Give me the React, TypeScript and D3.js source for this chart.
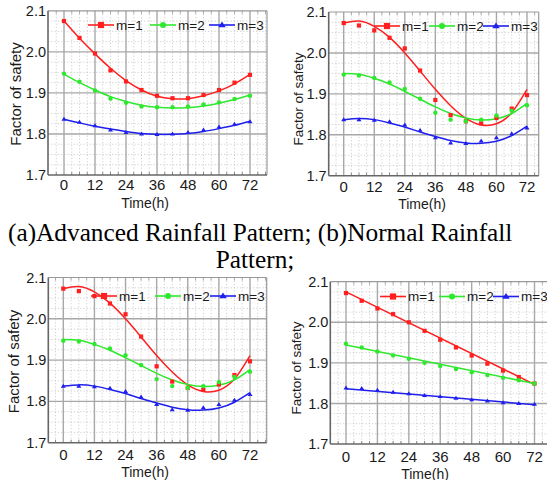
import React from "react";
import * as d3 from "d3";

// ---------- data ----------
const hours = [0, 6, 12, 18, 24, 30, 36, 42, 48, 54, 60, 66, 72];
const xTicks = [0, 12, 24, 36, 48, 60, 72];
const yTicks = [1.7, 1.8, 1.9, 2.0, 2.1];
const yTickLabels = ["1.7", "1.8", "1.9", "2.0", "2.1"];
const seriesNames = ["m=1", "m=2", "m=3"];
const seriesColors = ["#ff1f1f", "#2ee82e", "#1f1fee"];
const xTitle = "Time(h)";
const yTitle = "Factor of safety";
const captionLine1 = "(a)Advanced Rainfall Pattern; (b)Normal Rainfall";
const captionLine2 = "Pattern;";

// (a) advanced rainfall pattern: measured points
const advM1 = [2.075, 2.034, 1.996, 1.955, 1.928, 1.907, 1.893, 1.887, 1.887, 1.895, 1.907, 1.925, 1.944];
const advM2 = [1.947, 1.927, 1.906, 1.886, 1.876, 1.867, 1.865, 1.865, 1.867, 1.872, 1.877, 1.885, 1.893];
const advM3 = [1.836, 1.829, 1.820, 1.810, 1.804, 1.800, 1.799, 1.800, 1.804, 1.810, 1.817, 1.824, 1.830];
// (a) fitted curves read at each hour
const advFitM1 = [2.075, 2.033, 1.995, 1.960, 1.930, 1.907, 1.892, 1.886, 1.886, 1.893, 1.905, 1.922, 1.945];
const advFitM2 = [1.946, 1.925, 1.907, 1.891, 1.879, 1.870, 1.865, 1.863, 1.864, 1.868, 1.875, 1.884, 1.895];
const advFitM3 = [1.836, 1.827, 1.819, 1.812, 1.806, 1.801, 1.799, 1.799, 1.801, 1.806, 1.813, 1.821, 1.831];

// (b) normal rainfall pattern: measured points
const norM1 = [2.073, 2.067, 2.055, 2.037, 2.011, 1.957, 1.885, 1.848, 1.833, 1.828, 1.841, 1.864, 1.897];
const norM2 = [1.947, 1.945, 1.939, 1.928, 1.912, 1.888, 1.854, 1.837, 1.833, 1.837, 1.847, 1.859, 1.872];
const norM3 = [1.837, 1.837, 1.836, 1.832, 1.824, 1.811, 1.793, 1.780, 1.779, 1.785, 1.793, 1.803, 1.817];
// (b) fitted curves read at each hour
const norFitM1 = [2.073, 2.078, 2.065, 2.038, 2.000, 1.956, 1.911, 1.871, 1.840, 1.824, 1.827, 1.854, 1.911];
const norFitM2 = [1.950, 1.948, 1.938, 1.924, 1.906, 1.887, 1.868, 1.852, 1.841, 1.836, 1.839, 1.852, 1.877];
const norFitM3 = [1.837, 1.840, 1.837, 1.829, 1.819, 1.807, 1.796, 1.786, 1.780, 1.779, 1.784, 1.798, 1.821];

// (d) linear pattern: measured points
const linM1 = [2.072, 2.053, 2.034, 2.020, 2.000, 1.979, 1.957, 1.938, 1.918, 1.898, 1.881, 1.865, 1.849];
const linM2 = [1.947, 1.938, 1.928, 1.918, 1.910, 1.900, 1.892, 1.885, 1.877, 1.870, 1.863, 1.857, 1.849];
const linM3 = [1.838, 1.837, 1.833, 1.828, 1.824, 1.820, 1.817, 1.813, 1.809, 1.806, 1.802, 1.800, 1.798];
// (d) fitted straight lines (end values)
const linFitHours = [0, 72];
const linFitM1 = [2.075, 1.847];
const linFitM2 = [1.944, 1.849];
const linFitM3 = [1.836, 1.797];

const FONT = "'Liberation Sans', Arial, sans-serif";

type Cfg = {
  l: number; r: number; x0: number; x72: number; y17: number; y21: number;
  pts: number[][]; fitH: number[]; fits: number[][]; curve: any;
  legX: number[]; legY: number;
  yTitleX: number; yTitleY: number; yTitleSize: number;
  xTitleX: number; xTitleY: number; xTickY: number;
  id: string;
};

const Marker = ({ i, cx, cy, s, color }: any) => {
  if (i === 0) return <rect x={cx - s / 2} y={cy - s / 2} width={s} height={s} fill={color} />;
  if (i === 1) return <circle cx={cx} cy={cy} r={s / 2} fill={color} />;
  const h = s * 0.95;
  return <path d={`M${cx},${cy - h * 0.6}L${cx + s * 0.6},${cy + h * 0.4}L${cx - s * 0.6},${cy + h * 0.4}Z`} fill={color} />;
};

const Panel = ({ c }: { c: Cfg }) => {
  const x = d3.scaleLinear().domain([0, 72]).range([c.x0, c.x72]);
  const y = d3.scaleLinear().domain([1.7, 2.1]).range([c.y17, c.y21]);
  const t = c.y21, b = c.y17;
  const minorX = d3.range(-9, 84, 3).filter((h) => h % 12 !== 0 && x(h) > c.l + 1 && x(h) < c.r - 1);
  const minorY = d3.range(0, 17).map((k) => 1.7 + k * 0.025).filter((v, k) => k % 4 !== 0);
  const line = d3.line<number[]>().x((d) => x(d[0])).y((d) => y(d[1])).curve(c.curve);
  return (
    <g>
      <defs>
        <clipPath id={c.id}>
          <rect x={c.l} y={t} width={c.r - c.l} height={b - t} />
        </clipPath>
      </defs>
      {/* minor grid */}
      {minorX.map((h) => (
        <line key={"mx" + h} x1={x(h)} x2={x(h)} y1={t} y2={b} stroke="#c4c4c4" strokeWidth={0.8} strokeDasharray="1.2,2" />
      ))}
      {minorY.map((v) => (
        <line key={"my" + v} x1={c.l} x2={c.r} y1={y(v)} y2={y(v)} stroke="#c4c4c4" strokeWidth={0.8} strokeDasharray="1.2,2" />
      ))}
      {/* minor ticks */}
      {minorX.map((h) => (
        <g key={"tx" + h}>
          <line x1={x(h)} x2={x(h)} y1={b} y2={b - 3} stroke="#888" strokeWidth={1} />
          <line x1={x(h)} x2={x(h)} y1={t} y2={t + 3} stroke="#aaa" strokeWidth={1} />
        </g>
      ))}
      {/* major grid */}
      {xTicks.map((h) => (
        <line key={"gx" + h} x1={x(h)} x2={x(h)} y1={t} y2={b} stroke="#a8a8a8" strokeWidth={1.4} />
      ))}
      {yTicks.slice(1, 4).map((v) => (
        <line key={"gy" + v} x1={c.l} x2={c.r} y1={y(v)} y2={y(v)} stroke="#a8a8a8" strokeWidth={1.4} />
      ))}
      {/* frame */}
      <line x1={c.l} x2={c.r} y1={t} y2={t} stroke="#9a9a9a" strokeWidth={1.2} />
      <line x1={c.r} x2={c.r} y1={t} y2={b} stroke="#9a9a9a" strokeWidth={1.2} />
      <line x1={c.l} x2={c.r} y1={b} y2={b} stroke="#666" strokeWidth={1.6} />
      <line x1={c.l} x2={c.l} y1={t} y2={b} stroke="#666" strokeWidth={1.6} />
      {/* fits + points */}
      <g clipPath={`url(#${c.id})`}>
        {c.fits.map((f, i) => (
          <path key={"f" + i} d={line(c.fitH.map((h, k) => [h, f[k]])) || ""} fill="none" stroke={seriesColors[i]} strokeWidth={1.5} />
        ))}
        {c.pts.map((p, i) =>
          p.map((v, k) => <Marker key={"p" + i + "_" + k} i={i} cx={x(hours[k])} cy={y(v)} s={i === 1 ? 4.4 : 4.2} color={seriesColors[i]} />)
        )}
      </g>
      {/* tick labels */}
      {yTicks.map((v, k) => (
        <text key={"yl" + v} x={c.l - 2} y={y(v)} dy="0.35em" textAnchor="end" fontFamily={FONT} fontSize={14.5} fill="#1a1a1a">
          {yTickLabels[k]}
        </text>
      ))}
      {xTicks.map((h) => (
        <text key={"xl" + h} x={x(h)} y={c.xTickY} textAnchor="middle" fontFamily={FONT} fontSize={15} fill="#1a1a1a">
          {h}
        </text>
      ))}
      {/* titles */}
      <text x={c.xTitleX} y={c.xTitleY} textAnchor="middle" fontFamily={FONT} fontSize={14} fill="#1a1a1a">{xTitle}</text>
      <text transform={`translate(${c.yTitleX},${c.yTitleY}) rotate(-90)`} textAnchor="middle" dy="0.35em" fontFamily={FONT} fontSize={c.yTitleSize} fill="#1a1a1a">
        {yTitle}
      </text>
      {/* legend */}
      {seriesNames.map((n, i) => {
        const tx = c.legX[i];
        const x1 = tx - 27, x2 = tx - 1;
        return (
          <g key={"lg" + i}>
            <line x1={x1} x2={x2} y1={c.legY} y2={c.legY} stroke={seriesColors[i]} strokeWidth={1.6} />
            <Marker i={i} cx={(x1 + x2) / 2} cy={c.legY} s={i === 1 ? 6 : 6.2} color={seriesColors[i]} />
            <text x={tx + 1} y={c.legY} dy="0.35em" fontFamily={FONT} fontSize={13.5} fill="#1a1a1a">{n}</text>
          </g>
        );
      })}
    </g>
  );
};

const panels: Cfg[] = [
  {
    id: "pa", l: 48, r: 267, x0: 64, x72: 250, y17: 175, y21: 10.8,
    pts: [advM1, advM2, advM3], fitH: hours, fits: [advFitM1, advFitM2, advFitM3], curve: d3.curveNatural,
    legX: [115, 177, 236], legY: 25,
    yTitleX: 15.5, yTitleY: 94, yTitleSize: 15,
    xTitleX: 145, xTitleY: 207.5, xTickY: 190,
  },
  {
    id: "pb", l: 328.7, r: 538.7, x0: 343.7, x72: 527, y17: 175.7, y21: 12,
    pts: [norM1, norM2, norM3], fitH: hours, fits: [norFitM1, norFitM2, norFitM3], curve: d3.curveNatural,
    legX: [401, 456, 510], legY: 26,
    yTitleX: 298, yTitleY: 99, yTitleSize: 13.5,
    xTitleX: 422, xTitleY: 208.5, xTickY: 191.5,
  },
  {
    id: "pc", l: 48.3, r: 266.7, x0: 63.3, x72: 250, y17: 442.7, y21: 277.5,
    pts: [norM1, norM2, norM3], fitH: hours, fits: [norFitM1, norFitM2, norFitM3], curve: d3.curveNatural,
    legX: [118, 182, 237], legY: 296,
    yTitleX: 14, yTitleY: 361.5, yTitleSize: 15,
    xTitleX: 145, xTitleY: 477, xTickY: 460,
  },
  {
    id: "pd", l: 330.3, r: 553, x0: 346, x72: 534.5, y17: 444, y21: 281.7,
    pts: [linM1, linM2, linM3], fitH: linFitHours, fits: [linFitM1, linFitM2, linFitM3], curve: d3.curveLinear,
    legX: [407, 466, 520], legY: 296.5,
    yTitleX: 296, yTitleY: 368, yTitleSize: 13.5,
    xTitleX: 425, xTitleY: 478.5, xTickY: 461.5,
  },
];

export default function App() {
  return (
    <svg width={547} height={480} style={{ position: "absolute", left: 0, top: 0, background: "#fff" }}>
      <rect x={0} y={0} width={547} height={480} fill="#fff" />
      {panels.map((p) => (
        <Panel key={p.id} c={p} />
      ))}
      <text x={8} y={241} fontFamily="'Liberation Serif', 'Times New Roman', serif" fontSize={25.3} fill="#000">
        {captionLine1}
      </text>
      <text x={255} y={268} textAnchor="middle" fontFamily="'Liberation Serif', 'Times New Roman', serif" fontSize={25.3} fill="#000">
        {captionLine2}
      </text>
    </svg>
  );
}
